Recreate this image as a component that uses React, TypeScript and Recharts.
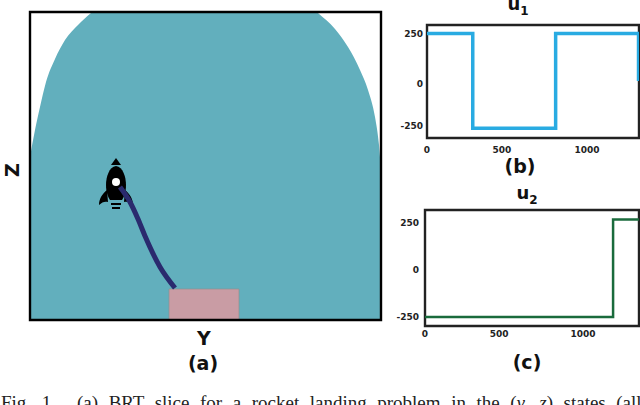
import { ComposedChart, LineChart, Area, Line, XAxis, YAxis, ReferenceArea } from 'recharts';

const FONT = '"DejaVu Sans", sans-serif';

// BRT boundary, panel (a) - the dome runs past the top of the frame and gets clipped there
const brtY = [0, 5, 10, 16, 25, 35, 48, 61, 90, 130, 175, 220, 260, 288, 305, 318, 330, 338, 345, 349, 351];
const brtZ = [163, 190, 213, 238, 261, 280, 295, 307, 328, 342, 347, 342, 328, 307, 291, 273, 250, 230, 203, 175, 150];

// rocket trajectory
const trajY = [90, 100, 108, 115, 130, 145];
const trajZ = [133, 118, 101, 84, 53, 32];

const rocketY = [86];
const rocketZ = [138];
const targetY = [139, 209];
const targetZ = [0, 31];

// control signals
const u1Time = [0, 286, 286, 804, 804, 1322, 1322];
const u1Value = [250, 250, -250, -250, 250, 250, 0];
const u2Time = [0, 1190, 1190, 1354];
const u2Value = [-250, -250, 270, 270];

const xTicks = [0, 500, 1000];
const yTicks = [-250, 0, 250];

const brtData = brtY.map((y, i) => ({ y, z: brtZ[i] }));
const trajData = trajY.map((y, i) => ({ y, z: trajZ[i] }));
const rocketData = rocketY.map((y, i) => ({ y, z: rocketZ[i] }));
const u1Data = u1Time.map((t, i) => ({ t, v: u1Value[i] }));
const u2Data = u2Time.map((t, i) => ({ t, v: u2Value[i] }));

const Rocket = ({ cx, cy }: any) => (
    <g key="rocket" transform={`translate(${cx},${cy})`}>
        <path d="M0,-24 L5,-17 L-5,-17 Z" fill="#000" />
        <path d="M0,-16 C7,-15 10,-5 10,3 C10,10 8,15 6,18 L-6,18 C-8,15 -10,10 -10,3 C-10,-5 -7,-15 0,-16 Z" fill="#000" />
        <path d="M-9,8 C-14,12 -17,17 -17,23 C-14,20 -11,19 -8,20 Z" fill="#000" />
        <path d="M9,8 C14,12 17,17 17,23 C14,20 11,19 8,20 Z" fill="#000" />
        <rect x={-5} y={21} width={10} height={2} fill="#000" />
        <rect x={-4} y={25} width={8} height={2} fill="#000" />
        <circle r={4} fill="#fff" />
    </g>
);

const SignalTick = ({ x, y, payload, textAnchor, dy = 0, dx = 0 }: any) => (
    <text x={x + dx} y={y + dy} textAnchor={textAnchor} dominantBaseline="central" fontFamily={FONT} fontWeight="bold" fontSize={9} fill="#222">
        {payload.value}
    </text>
);

function Label({ x, y, size, children, rotate }: any) {
    return (
        <div
            style={{
                position: 'absolute',
                left: x,
                top: y,
                transform: `translate(-50%, -50%)${rotate ? ` rotate(${rotate}deg)` : ''}`,
                fontFamily: FONT,
                fontWeight: 'bold',
                fontSize: size,
                lineHeight: 1,
                color: '#111',
                whiteSpace: 'nowrap',
            }}
        >
            {children}
        </div>
    );
}

function SignalPlot({ data, color, strokeWidth, left, top, width, height, xDomain, yDomain, yTick, xTick }: any) {
    return (
        <div style={{ position: 'absolute', left, top }}>
            <LineChart width={width} height={height} data={data} margin={{ top: 2, right: 2, bottom: 0, left: 0 }}>
                <XAxis
                    type="number"
                    dataKey="t"
                    domain={xDomain}
                    ticks={xTicks}
                    allowDataOverflow
                    axisLine={false}
                    tickLine={false}
                    tick={xTick}
                    height={16}
                    interval={0}
                />
                <YAxis type="number" domain={yDomain} ticks={yTicks} axisLine={false} tickLine={false} tick={yTick} width={30} interval={0} />
                <Line type="linear" dataKey="v" stroke={color} strokeWidth={strokeWidth} dot={false} isAnimationActive={false} />
                <ReferenceArea x1={xDomain[0]} x2={xDomain[1]} y1={yDomain[0]} y2={yDomain[1]} fill="none" stroke="#222" strokeWidth={2.4} />
            </LineChart>
        </div>
    );
}

// the tick labels in the original sit a little off their values
const u1YTick = (props: any) => <SignalTick {...props} dx={4} dy={props.payload.value === -250 ? -2 : props.payload.value === 0 ? 3 : 0} />;
const u1XTick = (props: any) => <SignalTick {...props} dy={4} dx={props.payload.value === 500 ? -5 : 0} />;
const u2YTick = (props: any) => <SignalTick {...props} dx={2} />;
const u2XTick = (props: any) => <SignalTick {...props} dy={0} dx={props.payload.value === 500 ? -5 : 0} />;

export default function App() {
    return (
        <div style={{ position: 'fixed', left: 0, top: 0, width: 640, height: 405, overflow: 'hidden', background: '#fff' }}>
            <div style={{ position: 'absolute', left: 28, top: 10 }}>
                <ComposedChart width={355} height={312} data={brtData} margin={{ top: 2, right: 2, bottom: 2, left: 2 }}>
                    <XAxis type="number" dataKey="y" domain={[0, 351]} hide />
                    <YAxis type="number" domain={[0, 308]} allowDataOverflow hide />
                    <Area type="monotone" dataKey="z" fill="#62afbd" fillOpacity={1} stroke="none" isAnimationActive={false} />
                    <Line data={rocketData} dataKey="z" stroke="none" dot={Rocket} isAnimationActive={false} />
                    <ReferenceArea x1={targetY[0]} x2={targetY[1]} y1={targetZ[0]} y2={targetZ[1]} fill="#c99ca4" fillOpacity={1} stroke="#8f8f8f" strokeWidth={0.7} />
                    <ReferenceArea x1={0} x2={351} y1={0} y2={308} fill="none" stroke="#000" strokeWidth={2.4} />
                </ComposedChart>
            </div>
            {/* trajectory has to sit above the rocket, dots always paint over lines in one chart */}
            <div style={{ position: 'absolute', left: 28, top: 10 }}>
                <LineChart width={355} height={312} data={trajData} margin={{ top: 2, right: 2, bottom: 2, left: 2 }}>
                    <XAxis type="number" dataKey="y" domain={[0, 351]} hide />
                    <YAxis type="number" domain={[0, 308]} hide />
                    <Line type="monotone" dataKey="z" stroke="#2a2a6e" strokeWidth={5} dot={false} isAnimationActive={false} />
                </LineChart>
            </div>

            <SignalPlot data={u1Data} color="#29abe2" strokeWidth={3.5} left={397} top={23} width={244} height={131} xDomain={[0, 1325]} yDomain={[-301, 295]} yTick={u1YTick} xTick={u1XTick} />
            <SignalPlot data={u2Data} color="#1a6b3c" strokeWidth={2.5} left={395} top={208} width={246} height={134} xDomain={[0, 1354]} yDomain={[-298, 321]} yTick={u2YTick} xTick={u2XTick} />

            <Label x={12} y={170} size={19} rotate={-90}>Z</Label>
            <Label x={204} y={338} size={19}>Y</Label>
            <Label x={203} y={363} size={19}>(a)</Label>
            <Label x={520} y={166} size={19}>(b)</Label>
            <Label x={527} y={362} size={19}>(c)</Label>
            <Label x={518} y={6} size={18}>
                u<sub style={{ fontSize: 12 }}>1</sub>
            </Label>
            <Label x={527} y={195} size={18}>
                u<sub style={{ fontSize: 12 }}>2</sub>
            </Label>

            <div
                style={{
                    position: 'absolute',
                    left: 1,
                    top: 393,
                    fontFamily: '"Liberation Serif", serif',
                    fontSize: 19,
                    lineHeight: '20px',
                    color: '#222',
                    whiteSpace: 'pre',
                    wordSpacing: 5.8,
                }}
            >
                {'Fig. 1.  (a) BRT slice for a rocket landing problem in the ('}
                <i>y, z</i>
                {') states (all'}
            </div>
        </div>
    );
}
